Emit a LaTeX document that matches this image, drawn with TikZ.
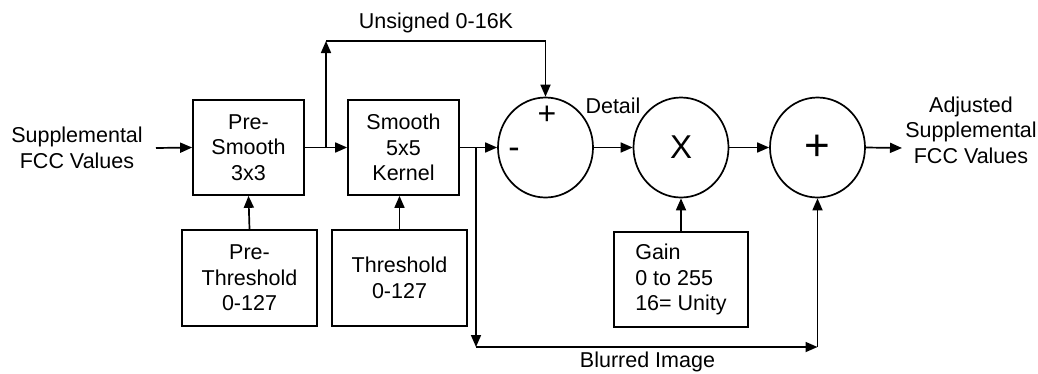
\documentclass[tikz,border=0pt]{standalone}
\usepackage{fontspec}
\setmainfont{Liberation Sans}
\usetikzlibrary{arrows.meta,shapes.geometric}
\begin{document}
\begin{tikzpicture}[x=1pt,y=-1pt,
  font=\fontsize{21.5}{25.5}\selectfont,
  line width=1.7pt,
  tip/.style={-{Triangle[length=12pt,width=10pt]}},
  blk/.style={draw,inner sep=0pt,align=center},
  sumnode/.style={draw,ellipse,minimum width=95pt,minimum height=100pt,inner sep=0pt},
  lbl/.style={inner sep=0pt,align=center}]
\useasboundingbox (0,0) rectangle (1038,373);
% blocks
\node[blk,minimum width=111pt,minimum height=95pt] (pre) at (248.5,147.5) {Pre-\\Smooth\\3x3};
\node[blk,minimum width=111pt,minimum height=95pt] (sm) at (403.5,147.5) {Smooth\\5x5\\Kernel};
\node[blk,minimum width=135pt,minimum height=96pt] (pth) at (249.5,278) {Pre-\\Threshold\\0-127};
\node[blk,minimum width=135pt,minimum height=96pt] (th) at (399.5,278) {Threshold\\0-127};
\node[draw,align=left,inner sep=0pt,minimum width=134pt,minimum height=95pt] (gain) at (681,279.5) {Gain\\0 to 255\\16= Unity};
% sum/mult nodes
\node[sumnode] (c1) at (545.5,147.5) {};
\node[sumnode] (c2) at (681,147.5) {\fontsize{33}{33}\selectfont X};
\node[sumnode] (c3) at (817.5,147.5) {\fontsize{44}{44}\selectfont +};
\node[lbl,anchor=base] at (547,124) {\fontsize{32}{32}\selectfont +};
\node[lbl,anchor=base] at (514,158) {\fontsize{34}{34}\selectfont -};
% texts
\node[lbl] (in) at (77,148) {Supplemental\\FCC Values};
\node[lbl] (out) at (971,130) {Adjusted\\Supplemental\\FCC Values};
\node[lbl] at (436,23) {Unsigned 0-16K};
\node[lbl] at (613,106) {Detail};
\node[lbl] at (647.5,362) {Blurred Image};
% coordinates
\coordinate (inS) at (156,148);
\coordinate (b1) at (326,148);
\coordinate (b1t) at (326,41);
\coordinate (tr) at (545.5,41);
\coordinate (b2) at (476,148);
\coordinate (b2b) at (476,347);
\coordinate (br) at (817.5,347);
\coordinate (outE) at (902,148);
% connectors
\draw[tip] (inS) -- (pre.west);
\draw[tip] (pre.east) -- (sm.west);
\draw[tip] (b1) -- (b1t);
\draw[tip] (b1t) -- (tr) -- (c1.north);
\draw[tip] (sm.east) -- (c1.west);
\draw[tip] (b2) -- (b2b);
\draw[tip] (b2b) -- (br);
\draw[tip] (br) -- (c3.south);
\draw[tip] (pth.north) -- (pre.south);
\draw[tip] (th.north) -- (th.north|-sm.south);
\draw[tip] (gain.north) -- (c2.south);
\draw[tip] (c1.east) -- (c2.west);
\draw[tip] (c2.east) -- (c3.west);
\draw[tip] (c3.east) -- (outE);
\end{tikzpicture}
\end{document}
